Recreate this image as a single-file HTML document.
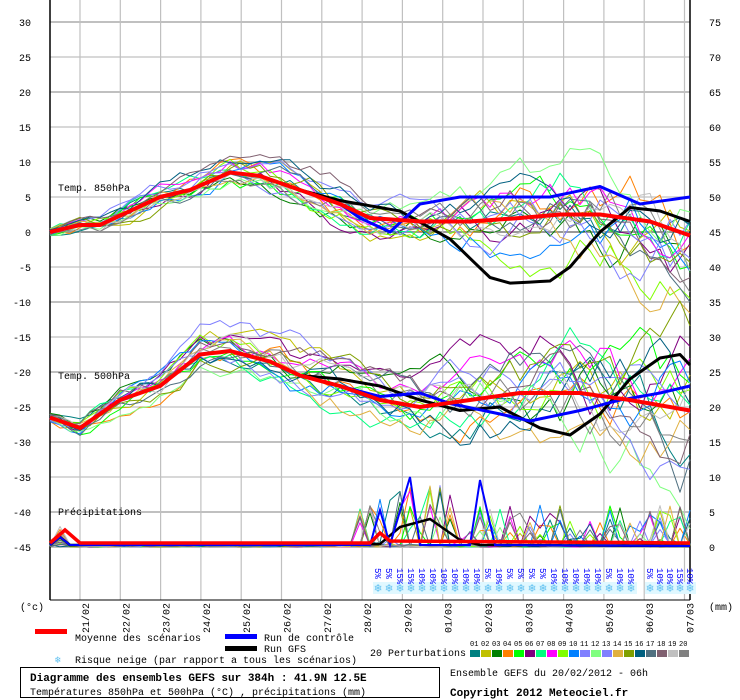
<!DOCTYPE html>
<html><head><meta charset="utf-8">
<style>
body{margin:0;background:#fff;width:740px;height:700px;overflow:hidden;font-family:"Liberation Mono",monospace;}
svg{position:absolute;left:0;top:0}
text{font-family:"Liberation Mono","DejaVu Sans Mono",monospace;font-size:10px;fill:#000}
</style></head><body>
<svg id="s" width="740" height="700" viewBox="0 0 740 700"></svg>
<script>
const s=document.getElementById('s');let h='';
const Y=t=>232-7*t;
for(let t=30;t>=-45;t-=5){const y=Y(t);const thick=(t%10==0)?2:1.2;h+=`<line x1="50" x2="690" y1="${y}" y2="${y}" stroke="${t==0||t==-45?'#999':'#c0c0c0'}" stroke-width="${thick}"/>`;
h+=`<text x="31" y="${y+4}" text-anchor="end">${t}</text>`;}
for(let v=75;v>=25;v-=5){h+=`<text x="709" y="${Y(v-45)+4}">${v}</text>`}
for(let v=20;v>=0;v-=5){h+=`<text x="709" y="${547-7*v+4}">${v}</text>`}
for(let i=0;i<16;i++){const x=80+i*40.3;h+=`<line x1="${x}" x2="${x}" y1="0" y2="600" stroke="#c0c0c0" stroke-width="1.2"/>`}
h+=`<line x1="50" x2="50" y1="0" y2="600" stroke="#000" stroke-width="1.5"/><line x1="690" x2="690" y1="0" y2="600" stroke="#000" stroke-width="1.5"/><line x1="50" x2="690" y1="600" y2="600" stroke="#000"/>`;
const dates=['21/02','22/02','23/02','24/02','25/02','26/02','27/02','28/02','29/02','01/03','02/03','03/03','04/03','05/03','06/03','07/03'];
dates.forEach((d,i)=>{const x=80+i*40.3+9;h+=`<text transform="translate(${x},633) rotate(-90)">${d}</text>`});
h+=`<text x="58" y="191">Temp. 850hPa</text><text x="58" y="379">Temp. 500hPa</text><text x="58" y="515">Précipitations</text>`;
function interp(pts,x){for(let i=0;i<pts.length-1;i++){if(x<=pts[i+1][0]){const[a,b]=pts[i],[c,d]=pts[i+1];return b+(d-b)*(x-a)/(c-a)}}return pts[pts.length-1][1]}
let seed=7;const rnd=()=>{seed=(seed*16807)%2147483647;return seed/2147483647};
const xs=[];for(let x=50;x<=690;x+=10)xs.push(x);
function path(f,col,w){return `<polyline fill="none" stroke="${col}" stroke-width="${w}" stroke-linejoin="round" points="${xs.map(x=>x+','+f(x).toFixed(1)).join(' ')}"/>`}
const m850=[[50,0],[80,1],[100,1],[130,3],[160,5],[190,6],[230,8.5],[260,8],[300,6],[340,4],[370,2],[420,1.5],[470,1.5],[520,2],[560,2.5],[600,2.5],[650,1.5],[690,-0.5]];
const g850=[[50,0],[80,1],[100,1],[130,3],[160,5],[190,6],[230,8.5],[260,8],[300,6],[340,4.5],[400,3],[450,-1],[490,-6.5],[510,-7.3],[550,-7],[570,-5],[600,0],[630,3.5],[660,3],[690,1.5]];
const c850=[[50,0],[80,1],[100,1],[130,3],[160,5],[190,6],[230,8.5],[260,8],[300,6],[340,4],[360,2],[390,0],[420,4],[460,5],[500,5],[550,5],[600,6.5],[640,4],[690,5]];
const m500=[[50,-26.5],[80,-28],[120,-24],[160,-22],[200,-17.5],[230,-17],[270,-18.5],[300,-20.5],[340,-22],[380,-24],[420,-25],[470,-24],[520,-23],[580,-23],[630,-24],[690,-25.5]];
const g500=[[50,-26.5],[80,-28],[120,-24],[160,-22],[200,-17.5],[230,-17],[270,-18.5],[300,-20.5],[340,-21],[380,-22],[420,-24],[460,-25.5],[500,-25],[540,-28],[570,-29],[600,-26],[630,-21],[660,-18],[680,-17.5],[690,-19]];
const c500=[[50,-26.5],[80,-28],[120,-24],[160,-22],[200,-17.5],[230,-17],[270,-18.5],[300,-20.5],[340,-22],[380,-23.5],[420,-23],[450,-24.5],[500,-26],[530,-27],[580,-25.5],[620,-24],[660,-23],[690,-22]];
const cols=['#008080','#c0c000','#008000','#ff8000','#00ff00','#800080','#00ff80','#ff00ff','#80ff00','#0080ff','#8080ff','#80ff80','#8080ff','#e0b040','#80a000','#006080','#507080','#806070','#c0c0c0','#808080'];
cols.forEach(c=>{
 let o1=0,o2=0;const a1={},a2={},a3={};
 xs.forEach(x=>{const sp=x<350?0.6+(x-50)/300:1+(x-350)/100;o1+=(rnd()-0.5)*sp*1.8;o1*=0.95;o2+=(rnd()-0.5)*sp*2.2;o2*=0.95;a1[x]=o1;a2[x]=o2;
 let p=0;if(x<70&&x>55)p=rnd()*3;else if(x>350&&rnd()<0.25)p=rnd()*(x>370&&x<460?9:6);else p=rnd()*0.4;a3[x]=p;});
 h+=path(x=>Y(interp(m850,x)+a1[x]),c,1);
 h+=path(x=>Y(interp(m500,x)+a2[x]),c,1);
 h+=path(x=>547-7*a3[x],c,1);
});
h+=path(x=>Y(interp(g850,x)),'#000',3);h+=path(x=>Y(interp(c850,x)),'#0000ff',3);h+=path(x=>Y(interp(m850,x)),'#ff0000',4);
h+=path(x=>Y(interp(g500,x)),'#000',3);h+=path(x=>Y(interp(c500,x)),'#0000ff',3);h+=path(x=>Y(interp(m500,x)),'#ff0000',4);
const gp=[[50,545],[60,537],[70,545],[380,544],[400,527],[430,519],[460,540],[480,545],[690,546]];
const cp=[[50,545],[60,537],[70,545],[370,545],[380,510],[390,545],[410,477],[420,545],[470,545],[480,480],[495,545],[690,546]];
const mp=[[50,543],[65,530],[80,543],[370,543],[380,533],[390,541],[690,543]];
h+=`<polyline fill="none" stroke="#000" stroke-width="2.5" points="${gp.map(p=>p.join(',')).join(' ')}"/>`;
h+=`<polyline fill="none" stroke="#0000ff" stroke-width="2" points="${cp.map(p=>p.join(',')).join(' ')}"/>`;
h+=`<polyline fill="none" stroke="#ff0000" stroke-width="3.5" points="${mp.map(p=>p.join(',')).join(' ')}"/>`;
const pc1=[5,5,15,15,10,10,10,10,10,10,5,10,5,5,5,5,10,10,10,10,10,5,10,10],pc2=[5,10,10,15,10];
function snow(x,p){h+=`<rect x="${x-5}" y="582" width="11" height="12" fill="#e0f8ff"/><text x="${x}" y="592" text-anchor="middle" style="font-size:12px;fill:#60c0f0">❄</text><text transform="translate(${x-3},568) rotate(90)" style="font-size:9px;fill:#0000ff">${p}%</text>`}
pc1.forEach((p,i)=>snow(378+i*11,p));pc2.forEach((p,i)=>snow(650+i*10,p));
h+=`<text x="20" y="610">(°c)</text><text x="709" y="610">(mm)</text>`;
h+=`<rect x="35" y="629" width="32" height="5" fill="#ff0000"/><text x="75" y="641">Moyenne des scénarios</text>`;
h+=`<rect x="225" y="634" width="32" height="5" fill="#0000ff"/><text x="264" y="641">Run de contrôle</text>`;
h+=`<rect x="225" y="646" width="32" height="5" fill="#000"/><text x="264" y="652">Run GFS</text>`;
h+=`<text x="55" y="663" style="fill:#60c0f0">❄</text><text x="75" y="663">Risque neige (par rapport a tous les scénarios)</text>`;
h+=`<text x="370" y="656">20 Perturbations</text>`;
cols.forEach((c,i)=>{const x=470+i*11;h+=`<rect x="${x}" y="650" width="10" height="7" fill="${c}"/><text x="${x}" y="646" style="font-size:7px">${String(i+1).padStart(2,'0')}</text>`});
h+=`<rect x="20.5" y="667.5" width="419" height="30" fill="none" stroke="#000"/>`;
h+=`<text x="30" y="681" style="font-weight:bold;font-size:11px">Diagramme des ensembles GEFS sur 384h : 41.9N 12.5E</text>`;
h+=`<text x="30" y="695" style="font-size:10px">Températures 850hPa et 500hPa (°C) , précipitations (mm)</text>`;
h+=`<text x="450" y="676">Ensemble GEFS du 20/02/2012 - 06h</text>`;
h+=`<text x="450" y="696" style="font-weight:bold;font-size:11px">Copyright 2012 Meteociel.fr</text>`;
s.innerHTML=h;
</script>
</body></html>
